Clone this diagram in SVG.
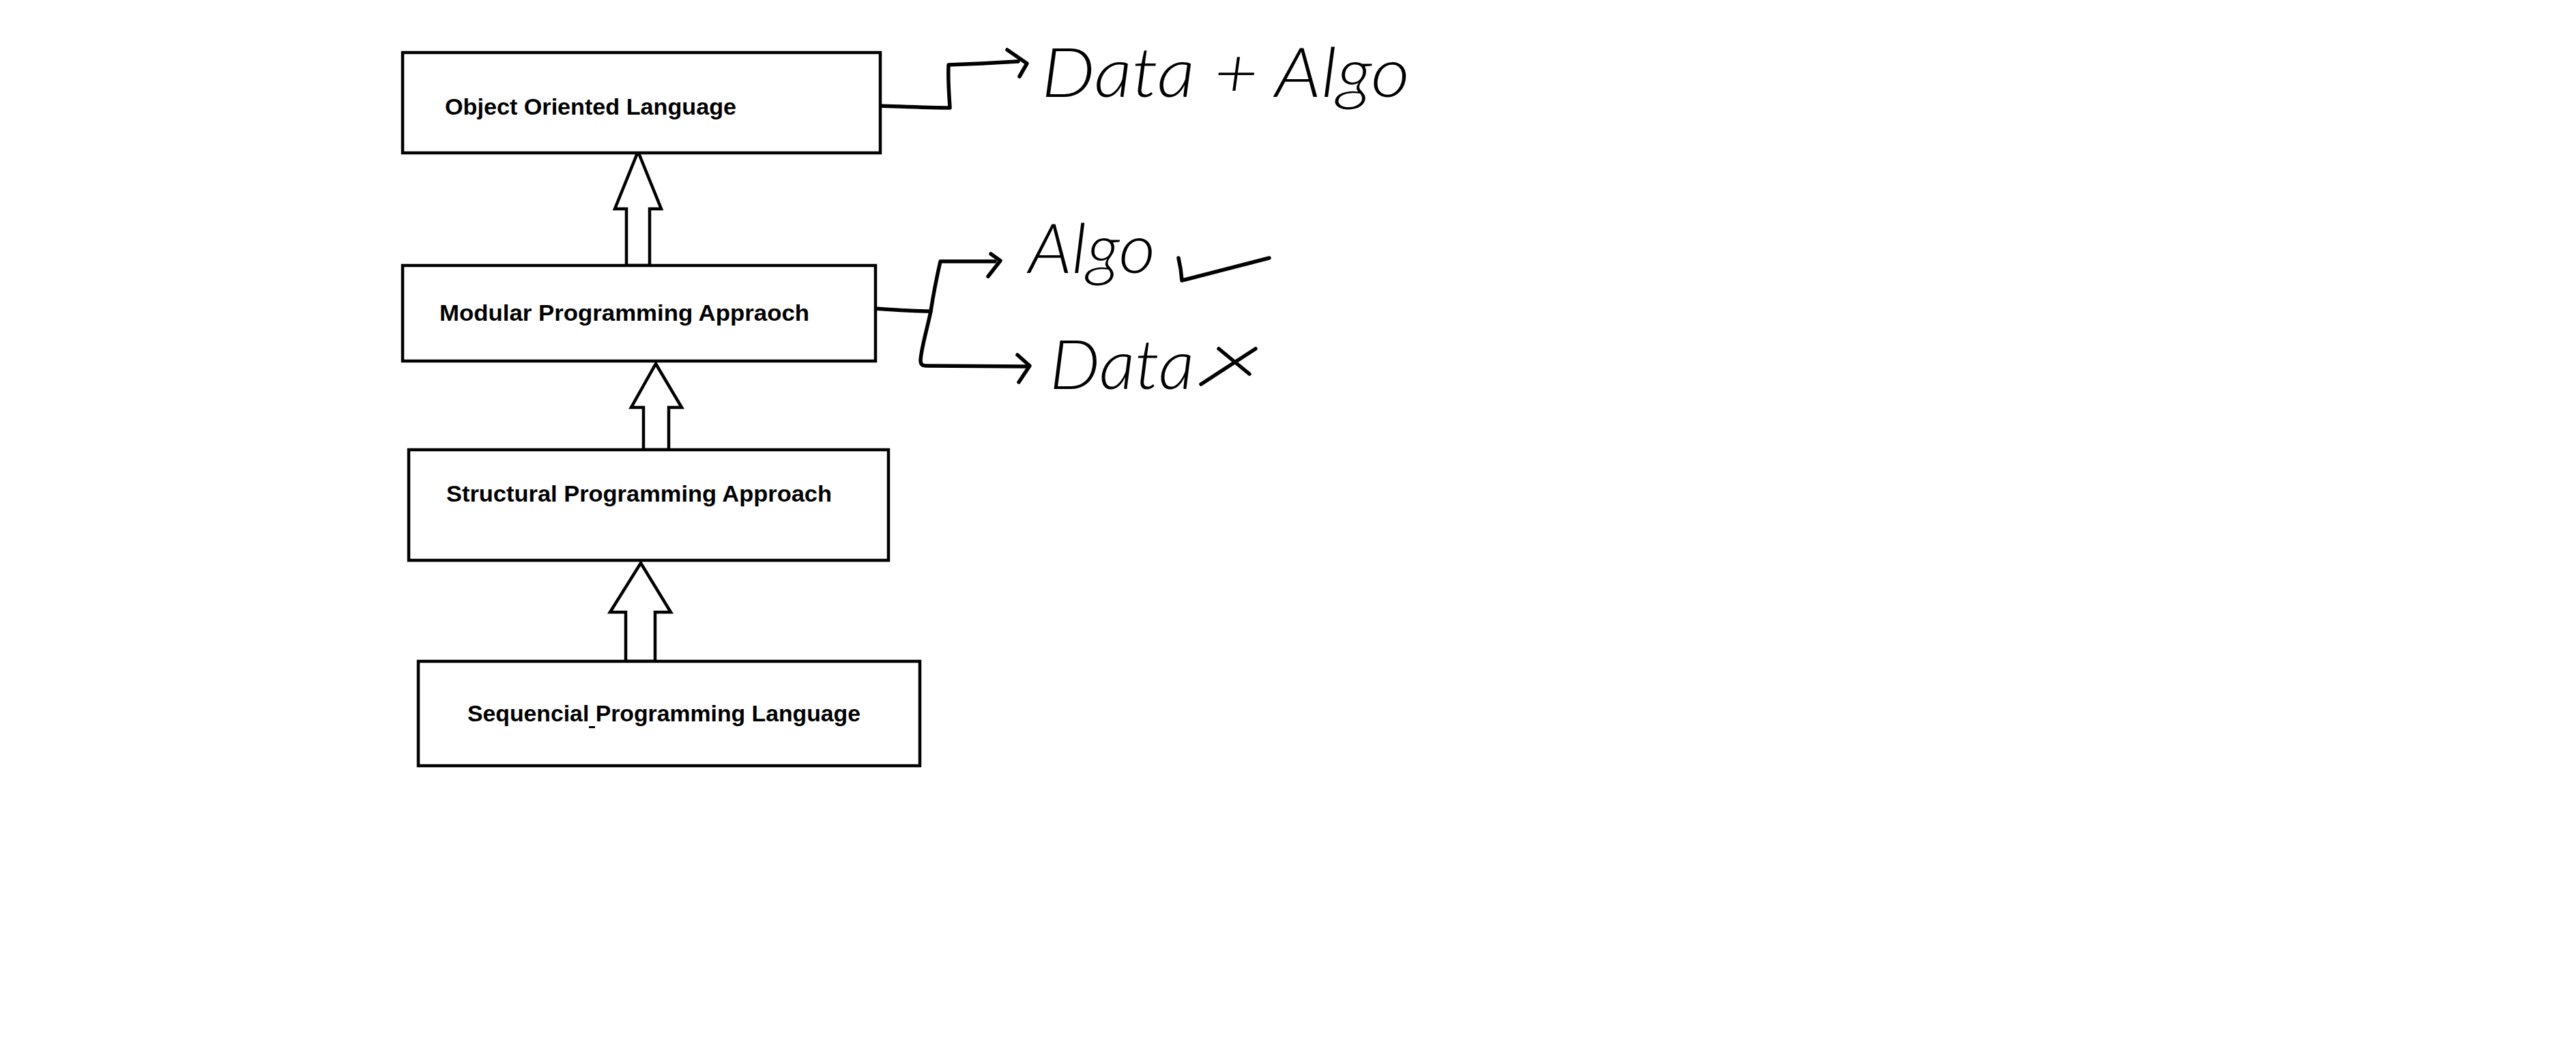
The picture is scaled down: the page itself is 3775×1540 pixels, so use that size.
<svg xmlns="http://www.w3.org/2000/svg" width="3775" height="1540" viewBox="0 0 3775 1540">
<style>
.box{fill:#fff;stroke:#000;stroke-width:4.5}
.lbl{font-family:"Liberation Sans",Arial,sans-serif;font-weight:bold;font-size:34px;fill:#000}
.blk{fill:#fff;stroke:#000;stroke-width:4.5;stroke-linejoin:miter}
.ink{fill:none;stroke:#000;stroke-width:5.5;stroke-linecap:round;stroke-linejoin:round}
.hw{font-family:Lato,"Open Sans",sans-serif;font-style:italic;font-weight:300;font-size:100px;fill:#000}
</style>
<rect width="3775" height="1540" fill="#fff"/>
<g id="connectors">
<polygon class="blk" points="935,222 969,306 952,306 952,389 918,389 918,306 901,306"/>
<polygon class="blk" points="961,533 999,597 980,597 980,659 943,659 943,597 925,597"/>
<polygon class="blk" points="939,825 983,897 960,897 960,969 917,969 917,897 894,897"/>
<path class="ink" d="M1288,155 C1320,156 1360,158 1392,158 C1391,140 1389,120 1390,95 C1420,94 1460,92 1492,90"/>
<path class="ink" d="M1476,73 L1505,93 L1494,112"/>
<path class="ink" d="M1282,452 C1310,454 1340,456 1364,456 C1368,430 1373,405 1378,383 L1458,383"/>
<path class="ink" d="M1452,372 L1466,382 L1448,405"/>
<path class="ink" d="M1364,456 C1358,485 1350,510 1349,528 C1349,535 1352,536 1360,536 L1507,537"/>
<path class="ink" d="M1491,520 L1509,536 L1493,560"/>
</g>
<g id="node-oop">
<rect class="box" x="590" y="77" width="700" height="147"/>
<text class="lbl" x="652" y="168" textLength="427" lengthAdjust="spacingAndGlyphs">Object Oriented Language</text>
</g>
<g id="node-modular">
<rect class="box" x="590" y="389" width="693" height="140"/>
<text class="lbl" x="644" y="470" textLength="542" lengthAdjust="spacingAndGlyphs">Modular Programming Appraoch</text>
</g>
<g id="node-structural">
<rect class="box" x="599" y="659" width="703" height="162"/>
<text class="lbl" x="654" y="735" textLength="565" lengthAdjust="spacingAndGlyphs">Structural Programming Approach</text>
</g>
<g id="node-sequencial">
<rect class="box" x="613" y="969" width="735" height="153"/>
<text class="lbl" x="685" y="1057" textLength="576" lengthAdjust="spacingAndGlyphs">Sequencial Programming Language</text>
<rect x="863" y="1064" width="9" height="3" fill="#000"/>
</g>
<g id="note-oop">
<text class="hw" x="1526" y="142" textLength="540" lengthAdjust="spacingAndGlyphs">Data + Algo</text>
</g>
<g id="note-modular">
<text class="hw" x="1507" y="400" textLength="186" lengthAdjust="spacingAndGlyphs">Algo</text>
<path class="ink" d="M1727,378 Q1731,395 1732,411 L1860,378"/>
<text class="hw" x="1538" y="570" textLength="212" lengthAdjust="spacingAndGlyphs">Data</text>
<path class="ink" d="M1786,511 L1831,548 M1840,511 L1760,563"/>
</g>
</svg>
